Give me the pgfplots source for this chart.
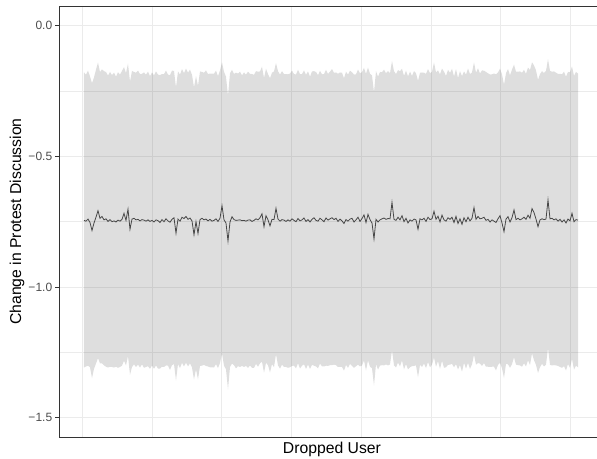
\documentclass[border=0pt]{standalone}
\usepackage{fontspec}
\setmainfont{Liberation Sans}
\usepackage{pgfplots}
\pgfplotsset{compat=1.18}
\usepackage{pgfplotstable}
\usepgfplotslibrary{fillbetween}
\definecolor{gridgray}{RGB}{235,235,235}
\definecolor{axgray}{RGB}{51,51,51}
\definecolor{lblgray}{RGB}{77,77,77}

\pgfplotstableread{
x y lo hi
1 -0.745 -1.308 -0.179
2 -0.748 -1.304 -0.187
3 -0.740 -1.301 -0.172
4 -0.753 -1.307 -0.194
5 -0.784 -1.349 -0.220
6 -0.755 -1.313 -0.198
7 -0.733 -1.293 -0.168
8 -0.708 -1.272 -0.141
9 -0.737 -1.292 -0.177
10 -0.730 -1.292 -0.167
11 -0.743 -1.300 -0.174
12 -0.739 -1.305 -0.177
13 -0.749 -1.308 -0.191
14 -0.742 -1.305 -0.177
15 -0.750 -1.306 -0.189
16 -0.747 -1.308 -0.180
17 -0.751 -1.305 -0.195
18 -0.744 -1.309 -0.178
19 -0.748 -1.306 -0.187
20 -0.741 -1.301 -0.173
21 -0.718 -1.282 -0.159
22 -0.745 -1.300 -0.181
23 -0.702 -1.264 -0.145
24 -0.779 -1.336 -0.214
25 -0.740 -1.306 -0.173
26 -0.737 -1.296 -0.177
27 -0.743 -1.306 -0.180
28 -0.741 -1.297 -0.172
29 -0.747 -1.308 -0.185
30 -0.742 -1.296 -0.184
31 -0.744 -1.309 -0.179
32 -0.748 -1.306 -0.187
33 -0.743 -1.303 -0.176
34 -0.749 -1.313 -0.193
35 -0.745 -1.300 -0.179
36 -0.751 -1.313 -0.190
37 -0.743 -1.300 -0.175
38 -0.746 -1.312 -0.187
39 -0.753 -1.312 -0.189
40 -0.742 -1.305 -0.185
41 -0.750 -1.306 -0.185
42 -0.739 -1.300 -0.172
43 -0.747 -1.301 -0.187
44 -0.752 -1.317 -0.189
45 -0.741 -1.299 -0.172
46 -0.735 -1.295 -0.173
47 -0.794 -1.358 -0.236
48 -0.740 -1.295 -0.175
49 -0.748 -1.310 -0.187
50 -0.733 -1.290 -0.166
51 -0.738 -1.304 -0.182
52 -0.730 -1.289 -0.164
53 -0.741 -1.304 -0.180
54 -0.736 -1.292 -0.168
55 -0.747 -1.308 -0.188
56 -0.800 -1.354 -0.236
57 -0.750 -1.315 -0.193
58 -0.795 -1.353 -0.230
59 -0.742 -1.302 -0.175
60 -0.737 -1.301 -0.177
61 -0.743 -1.298 -0.180
62 -0.740 -1.302 -0.171
63 -0.747 -1.304 -0.185
64 -0.741 -1.307 -0.183
65 -0.748 -1.307 -0.183
66 -0.745 -1.308 -0.184
67 -0.739 -1.295 -0.172
68 -0.749 -1.310 -0.193
69 -0.737 -1.291 -0.171
70 -0.689 -1.254 -0.140
71 -0.743 -1.301 -0.176
72 -0.755 -1.315 -0.195
73 -0.824 -1.392 -0.268
74 -0.751 -1.306 -0.182
75 -0.731 -1.293 -0.169
76 -0.742 -1.299 -0.184
77 -0.745 -1.311 -0.180
78 -0.744 -1.303 -0.183
79 -0.743 -1.306 -0.176
80 -0.746 -1.302 -0.190
81 -0.745 -1.306 -0.179
82 -0.748 -1.302 -0.187
83 -0.744 -1.309 -0.176
84 -0.743 -1.301 -0.184
85 -0.749 -1.309 -0.185
86 -0.745 -1.309 -0.188
87 -0.739 -1.294 -0.174
88 -0.743 -1.305 -0.176
89 -0.735 -1.292 -0.175
90 -0.720 -1.286 -0.157
91 -0.769 -1.328 -0.200
92 -0.727 -1.290 -0.165
93 -0.743 -1.299 -0.185
94 -0.766 -1.327 -0.201
95 -0.741 -1.295 -0.180
96 -0.742 -1.307 -0.175
97 -0.699 -1.257 -0.143
98 -0.740 -1.300 -0.174
99 -0.748 -1.312 -0.187
100 -0.742 -1.297 -0.174
101 -0.744 -1.306 -0.185
102 -0.749 -1.306 -0.185
103 -0.743 -1.309 -0.186
104 -0.748 -1.307 -0.183
105 -0.739 -1.302 -0.172
106 -0.745 -1.301 -0.185
107 -0.750 -1.311 -0.187
108 -0.738 -1.292 -0.169
109 -0.747 -1.312 -0.185
110 -0.743 -1.301 -0.185
111 -0.736 -1.296 -0.171
112 -0.749 -1.313 -0.188
113 -0.742 -1.297 -0.175
114 -0.751 -1.313 -0.195
115 -0.741 -1.298 -0.175
116 -0.735 -1.301 -0.174
117 -0.745 -1.304 -0.177
118 -0.748 -1.311 -0.189
119 -0.737 -1.293 -0.173
120 -0.743 -1.304 -0.186
121 -0.750 -1.304 -0.185
122 -0.736 -1.301 -0.169
123 -0.744 -1.302 -0.184
124 -0.739 -1.299 -0.176
125 -0.735 -1.299 -0.166
126 -0.742 -1.297 -0.180
127 -0.737 -1.299 -0.179
128 -0.749 -1.306 -0.184
129 -0.740 -1.306 -0.179
130 -0.747 -1.306 -0.180
131 -0.757 -1.320 -0.201
132 -0.742 -1.298 -0.176
133 -0.748 -1.309 -0.187
134 -0.740 -1.294 -0.172
135 -0.737 -1.302 -0.178
136 -0.751 -1.309 -0.187
137 -0.743 -1.303 -0.186
138 -0.733 -1.297 -0.168
139 -0.749 -1.304 -0.182
140 -0.738 -1.300 -0.178
141 -0.724 -1.281 -0.161
142 -0.753 -1.319 -0.184
143 -0.722 -1.281 -0.160
144 -0.742 -1.305 -0.184
145 -0.755 -1.311 -0.190
146 -0.816 -1.377 -0.255
147 -0.741 -1.295 -0.174
148 -0.751 -1.316 -0.195
149 -0.743 -1.301 -0.177
150 -0.739 -1.299 -0.178
151 -0.736 -1.300 -0.168
152 -0.741 -1.296 -0.182
153 -0.738 -1.300 -0.174
154 -0.739 -1.296 -0.182
155 -0.676 -1.242 -0.135
156 -0.741 -1.300 -0.174
157 -0.745 -1.308 -0.185
158 -0.733 -1.289 -0.170
159 -0.743 -1.304 -0.174
160 -0.727 -1.281 -0.165
161 -0.750 -1.315 -0.192
162 -0.737 -1.295 -0.172
163 -0.755 -1.315 -0.194
164 -0.743 -1.307 -0.176
165 -0.748 -1.303 -0.192
166 -0.740 -1.302 -0.174
167 -0.743 -1.300 -0.182
168 -0.779 -1.345 -0.211
169 -0.739 -1.298 -0.180
170 -0.743 -1.306 -0.179
171 -0.737 -1.293 -0.180
172 -0.749 -1.310 -0.184
173 -0.733 -1.287 -0.166
174 -0.742 -1.307 -0.182
175 -0.739 -1.297 -0.176
176 -0.710 -1.270 -0.141
177 -0.741 -1.305 -0.179
178 -0.729 -1.284 -0.171
179 -0.751 -1.313 -0.186
180 -0.725 -1.282 -0.164
181 -0.743 -1.309 -0.176
182 -0.748 -1.307 -0.192
183 -0.735 -1.298 -0.169
184 -0.741 -1.297 -0.180
185 -0.733 -1.294 -0.165
186 -0.753 -1.307 -0.194
187 -0.730 -1.295 -0.166
188 -0.757 -1.315 -0.200
189 -0.739 -1.299 -0.174
190 -0.760 -1.324 -0.193
191 -0.735 -1.290 -0.175
192 -0.750 -1.312 -0.187
193 -0.733 -1.290 -0.164
194 -0.747 -1.313 -0.185
195 -0.737 -1.296 -0.179
196 -0.696 -1.259 -0.140
197 -0.741 -1.297 -0.180
198 -0.730 -1.291 -0.163
199 -0.739 -1.293 -0.183
200 -0.737 -1.302 -0.171
201 -0.733 -1.291 -0.172
202 -0.745 -1.305 -0.177
203 -0.741 -1.305 -0.182
204 -0.751 -1.306 -0.187
205 -0.743 -1.305 -0.186
206 -0.748 -1.305 -0.183
207 -0.753 -1.319 -0.186
208 -0.739 -1.298 -0.179
209 -0.727 -1.290 -0.164
210 -0.755 -1.311 -0.186
211 -0.788 -1.349 -0.226
212 -0.740 -1.294 -0.182
213 -0.731 -1.296 -0.166
214 -0.751 -1.309 -0.190
215 -0.735 -1.295 -0.168
216 -0.705 -1.269 -0.149
217 -0.742 -1.297 -0.176
218 -0.737 -1.299 -0.176
219 -0.743 -1.300 -0.175
220 -0.739 -1.305 -0.180
221 -0.733 -1.292 -0.169
222 -0.741 -1.304 -0.184
223 -0.725 -1.281 -0.160
224 -0.737 -1.298 -0.170
225 -0.700 -1.254 -0.140
226 -0.715 -1.280 -0.152
227 -0.740 -1.298 -0.171
228 -0.769 -1.329 -0.207
229 -0.743 -1.307 -0.185
230 -0.739 -1.294 -0.174
231 -0.742 -1.304 -0.181
232 -0.740 -1.297 -0.173
233 -0.667 -1.233 -0.128
234 -0.739 -1.298 -0.173
235 -0.737 -1.300 -0.176
236 -0.743 -1.299 -0.175
237 -0.739 -1.300 -0.180
238 -0.748 -1.302 -0.184
239 -0.741 -1.306 -0.184
240 -0.751 -1.309 -0.186
241 -0.743 -1.303 -0.176
242 -0.755 -1.319 -0.195
243 -0.740 -1.295 -0.177
244 -0.747 -1.309 -0.178
245 -0.718 -1.275 -0.156
246 -0.750 -1.316 -0.192
247 -0.742 -1.301 -0.177
248 -0.744 -1.307 -0.183
}\data

\begin{document}
\begin{tikzpicture}
\begin{axis}[
  name=ax,
  scale only axis,
  width=403.3pt, height=323.25pt,
  xmin=-11.35, xmax=257.5,
  ymin=-1.5738, ymax=0.0754,
  axis x line*=bottom, axis y line*=left,
  axis line style={-, draw=axgray, line width=0.6pt},
  xtick={0.15,69.85,139.55,209.25},
  minor xtick={35,104.7,174.4,244.1},
  xticklabels={},
  ytick={-1.5,-1,-0.5,0},
  minor ytick={-1.25,-0.75,-0.25},
  yticklabels={−1.5,−1.0,−0.5,0.0},
  grid=both,
  major grid style={draw=gridgray, line width=0.75pt},
  minor grid style={draw=gridgray, line width=0.45pt},
  tick align=outside,
  major tick length=3pt, minor tick length=0pt,
  x tick style={draw=none},
  y tick style={draw=axgray, line width=0.6pt},
  yticklabel style={text=lblgray, font=\fontsize{9}{10}\selectfont, xshift=1.2pt},
  xlabel={Dropped User},
  ylabel={Change in Protest Discussion},
  label style={font=\fontsize{11.8}{14}\selectfont},
  xlabel style={at={(axis description cs:0.507,-0.0278)}, anchor=center},
  ylabel style={at={(axis description cs:-0.0787,0.5)}, anchor=center},
]
\addplot[draw=none, name path=H, forget plot] table[x=x, y=hi]{\data};
\addplot[draw=none, name path=L, forget plot] table[x=x, y=lo]{\data};
\addplot[fill=black!80, fill opacity=0.16, draw=none] fill between[of=H and L];
\addplot[black!72, line width=0.6pt] table[x=x, y=y]{\data};
\draw[axgray, line width=0.6pt] (rel axis cs:0,1) -- (rel axis cs:1,1);
\end{axis}
\pgfresetboundingbox
\path[use as bounding box] ([xshift=-44.475pt,yshift=-16.5pt]ax.south west) rectangle ([yshift=4.5pt]ax.north east);
\end{tikzpicture}
\end{document}
